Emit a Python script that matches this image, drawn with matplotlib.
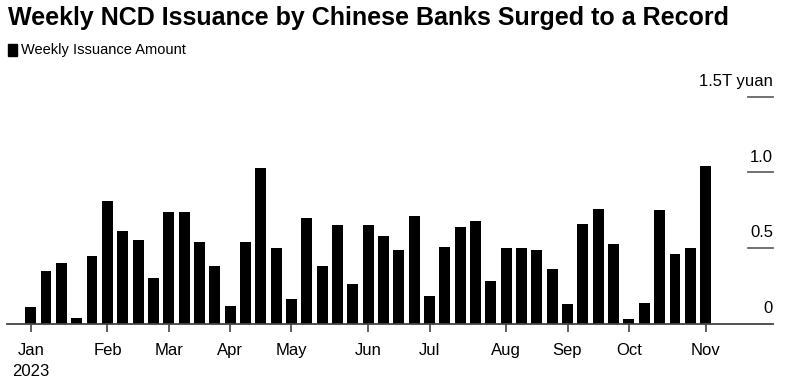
import matplotlib
matplotlib.use("Agg")
import matplotlib.pyplot as plt
import matplotlib.transforms as mtransforms

# weekly NCD issuance, trillion yuan
values = [0.11, 0.35, 0.40, 0.035, 0.45, 0.81, 0.61, 0.55, 0.30, 0.74,
          0.74, 0.54, 0.38, 0.12, 0.54, 1.03, 0.50, 0.16, 0.70, 0.38,
          0.65, 0.26, 0.65, 0.58, 0.49, 0.71, 0.18, 0.51, 0.64, 0.68,
          0.28, 0.50, 0.50, 0.49, 0.36, 0.13, 0.66, 0.76, 0.53, 0.033,
          0.14, 0.75, 0.46, 0.50, 1.04]
month_pos = [0, 5, 9, 13, 17, 22, 26, 31, 35, 39, 44]
month_labels = ["Jan\n2023", "Feb", "Mar", "Apr", "May", "Jun",
                "Jul", "Aug", "Sep", "Oct", "Nov"]
y_ticks = [0, 0.5, 1.0, 1.5]
y_labels = ["0", "0.5", "1.0", "1.5T yuan"]

plt.rcParams["font.family"] = ["Liberation Sans", "DejaVu Sans"]

fig = plt.figure(figsize=(7.9, 3.85), dpi=100)
ax = fig.add_axes([0.0085, 0.1592, 0.970, 0.5896])

ax.bar(range(len(values)), values, width=0.7, color="black")
ax.set_xlim(-1.57, 48.4)
ax.set_ylim(0, 1.5)

for s in ["top", "right", "left"]:
    ax.spines[s].set_visible(False)
ax.spines["bottom"].set_color("#444444")
ax.spines["bottom"].set_linewidth(1.3)
ax.set_yticks([])

ax.set_xticks(month_pos)
ax.set_xticklabels(month_labels, fontsize=12, linespacing=1.45)
ax.tick_params(axis="x", length=6, width=1.2, color="#444444", pad=8)
for lab in ax.get_xticklabels():
    lab.set_multialignment("center")

# short right-side gridlines with labels above them
tr = mtransforms.blended_transform_factory(ax.transAxes, ax.transData)
for v, lab in zip(y_ticks, y_labels):
    if v > 0:
        ax.plot([0.967, 1.0], [v, v], color="#666666", lw=1.3,
                transform=tr, clip_on=False)
    ax.text(1.0, v + 0.05, lab, transform=tr, ha="right", va="bottom",
            fontsize=12)

fig.text(0.01, 0.953, "Weekly NCD Issuance by Chinese Banks Surged to a Record",
         fontsize=18, fontweight="bold", va="center")
fig.patches.append(plt.Rectangle((0.0105, 0.855), 0.0115, 0.031,
                                 transform=fig.transFigure, color="black"))
fig.text(0.026, 0.871, "Weekly Issuance Amount", fontsize=10.5,
         va="center")

fig.savefig("out.png", dpi=100)
